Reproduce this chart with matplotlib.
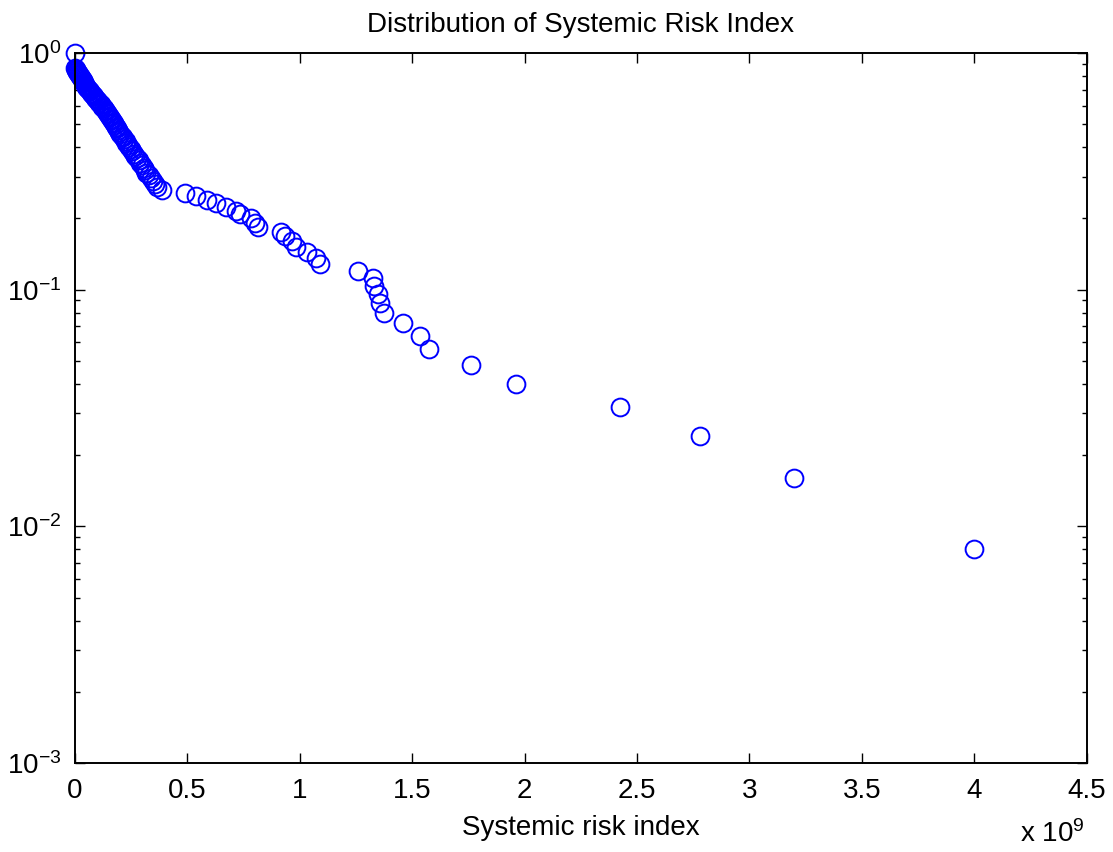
import matplotlib
matplotlib.use("Agg")
import matplotlib.pyplot as plt
from matplotlib.ticker import FixedLocator, FuncFormatter, LogLocator, NullFormatter

plt.rcParams['font.family'] = ['Liberation Sans', 'DejaVu Sans']
plt.rcParams['mathtext.fontset'] = 'custom'
plt.rcParams['mathtext.rm'] = 'Liberation Sans'
plt.rcParams['mathtext.it'] = 'Liberation Sans'
plt.rcParams['mathtext.default'] = 'regular'

title = "Distribution of Systemic Risk Index"
xlabel = "Systemic risk index"

# Systemic risk index (in units of 1e9)
risk_index = [
    0.0,
    0.002, 0.004, 0.005, 0.008, 0.010, 0.013, 0.016, 0.019, 0.022,
    0.025, 0.027, 0.031, 0.034, 0.036, 0.040, 0.042, 0.045, 0.049, 0.051,
    0.055, 0.060, 0.063, 0.066, 0.071, 0.076, 0.079, 0.083, 0.089, 0.093,
    0.098, 0.102, 0.108, 0.114, 0.118, 0.122, 0.129, 0.133, 0.138, 0.144,
    0.147, 0.152, 0.157, 0.160, 0.164, 0.170, 0.173, 0.177, 0.182, 0.187,
    0.193, 0.197, 0.201, 0.208, 0.212, 0.219, 0.225, 0.229, 0.236, 0.242,
    0.247, 0.255, 0.262, 0.268, 0.276, 0.284, 0.289, 0.297, 0.305, 0.311,
    0.318, 0.327, 0.337, 0.345, 0.354, 0.364, 0.387,
    0.489, 0.538, 0.585, 0.625, 0.670, 0.715, 0.735, 0.785, 0.800, 0.815,
    0.918, 0.933, 0.963, 0.985, 1.030, 1.074, 1.089,
    1.259, 1.326, 1.330, 1.348, 1.356, 1.373, 1.459, 1.536, 1.573,
    1.760, 1.960, 2.422, 2.778, 3.200, 4.000,
]

# Complementary cumulative probability
ccdf = [
    1.0,
    0.864, 0.856, 0.848, 0.840, 0.832, 0.824, 0.816, 0.808, 0.800,
    0.792, 0.784, 0.776, 0.768, 0.760, 0.752, 0.744, 0.736, 0.728, 0.720,
    0.712, 0.704, 0.696, 0.688, 0.680, 0.672, 0.664, 0.656, 0.648, 0.640,
    0.632, 0.624, 0.616, 0.608, 0.600, 0.592, 0.584, 0.576, 0.568, 0.560,
    0.552, 0.544, 0.536, 0.528, 0.520, 0.512, 0.504, 0.496, 0.488, 0.480,
    0.472, 0.464, 0.456, 0.448, 0.440, 0.432, 0.424, 0.416, 0.408, 0.400,
    0.392, 0.384, 0.376, 0.368, 0.360, 0.352, 0.344, 0.336, 0.328, 0.320,
    0.312, 0.304, 0.296, 0.288, 0.280, 0.272, 0.264,
    0.256, 0.248, 0.240, 0.232, 0.224, 0.216, 0.208, 0.200, 0.192, 0.184,
    0.176, 0.168, 0.160, 0.152, 0.144, 0.136, 0.128,
    0.120, 0.112, 0.104, 0.096, 0.088, 0.080, 0.072, 0.064, 0.056,
    0.048, 0.040, 0.032, 0.024, 0.016, 0.008,
]

xticks = [0, 0.5, 1, 1.5, 2, 2.5, 3, 3.5, 4, 4.5]

fig = plt.figure(figsize=(11.13, 8.52), dpi=100)
ax = fig.add_axes([75/1113, 1-763/852, (1086.7-75)/1113, (763-53)/852])

ax.plot(risk_index, ccdf, linestyle='none', marker='o', markersize=12.8,
        markerfacecolor='none', markeredgecolor='#0000ff', markeredgewidth=1.4,
        clip_on=False)

ax.set_yscale('log')
ax.set_xlim(0, 4.5)
ax.set_ylim(1e-3, 1)

ax.xaxis.set_major_locator(FixedLocator(xticks))
ax.xaxis.set_major_formatter(FuncFormatter(lambda v, p: "%g" % v))
ax.yaxis.set_major_locator(LogLocator(base=10, numticks=10))
ax.yaxis.set_minor_locator(LogLocator(base=10, subs=range(2, 10), numticks=20))
ax.yaxis.set_minor_formatter(NullFormatter())

fs = 20
ax.tick_params(which='both', direction='in', top=True, right=True, labelsize=fs,
               width=1.0, colors='black')
ax.tick_params(axis='x', which='major', length=7, pad=11)
ax.tick_params(axis='y', which='major', length=7, pad=10)
ax.tick_params(axis='y', which='minor', length=3.6)
for s in ax.spines.values():
    s.set_linewidth(1.4)
    s.set_color('black')

ax.set_title(title, fontsize=fs, pad=15)
ax.set_xlabel(xlabel, fontsize=fs, labelpad=8)
fig.text(1020/1113, 1-834/852, r"x 10$^{9}$", fontsize=fs, ha='left', va='center')

fig.savefig("out.png", dpi=100, facecolor='white')
